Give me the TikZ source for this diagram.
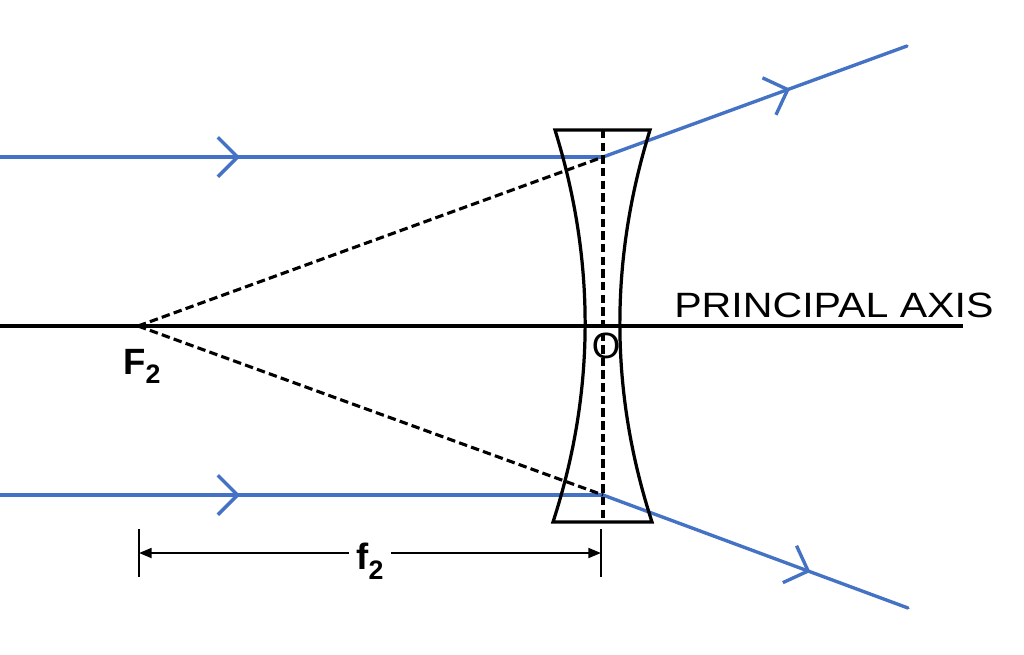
\documentclass[tikz,border=0pt]{standalone}
\usepackage{fontspec}
\setmainfont{Liberation Sans}
\newfontfamily\axisfont[FakeStretch=1.17]{Liberation Sans}
\usetikzlibrary{arrows.meta,decorations.markings}
\definecolor{raysblue}{RGB}{68,114,196}
\definecolor{inkblack}{RGB}{0,0,0}
\newcommand{\lowsub}[1]{\raisebox{-7pt}{\fontsize{19}{19}\selectfont #1}}
\tikzset{
  ray/.style={raysblue, line width=2.4pt, line cap=round},
  raymark/.style={postaction={decorate, decoration={markings,
    mark=at position #1 with {\arrow{Straight Barb[length=14pt,width=28pt]}}}}},
  guide/.style={inkblack, line width=2.2pt, dash pattern=on 6pt off 3pt},
  lensline/.style={inkblack, line width=2.3pt, line join=miter},
  axisline/.style={inkblack, line width=2.2pt},
  tickline/.style={inkblack, line width=1.6pt},
  dimline/.style={inkblack, line width=1.6pt,
    {Triangle[length=9pt,width=7pt]}-{Triangle[length=9pt,width=7pt]}}
}

\begin{document}
\begin{tikzpicture}[x=0.025cm, y=-0.025cm]
\useasboundingbox (0,0) rectangle (1024,654);
% points
\coordinate (F) at (138,326);
\coordinate (axisL) at (0,326);
\coordinate (axisR) at (963,326);
\coordinate (topIn) at (0,157);
\coordinate (topHit) at (603,157);
\coordinate (topOut) at (907,46);
\coordinate (botIn) at (0,495);
\coordinate (botHit) at (603,495);
\coordinate (botOut) at (908,608);
\coordinate (lensTop) at (603,130);
\coordinate (lensBot) at (603,522);
\coordinate (lensTL) at (555,130);
\coordinate (lensTR) at (650,130);
\coordinate (lensBL) at (553,522);
\coordinate (lensBR) at (652,522);
\coordinate (tickLa) at (139,529);
\coordinate (tickLb) at (139,577);
\coordinate (tickRa) at (601,529);
\coordinate (tickRb) at (601,577);
\coordinate (dimL) at (139,553);
\coordinate (dimR) at (601,553);

% rays
\draw[ray, raymark=0.398] (topIn) -- (topHit);
\draw[ray, raymark=0.615] (topHit) -- (topOut);
\draw[ray, raymark=0.398] (botIn) -- (botHit);
\draw[ray, raymark=0.68] (botHit) -- (botOut);

% virtual rays and lens centre
\draw[guide] (F) -- (topHit);
\draw[guide] (F) -- (botHit);
\draw[guide] (lensTop) -- (lensBot);

% lens
\draw[lensline] (lensTL) -- (lensTR) .. controls (609,262) and (610,393) .. (lensBR)
  -- (lensBL) .. controls (595,393) and (596,262) .. cycle;

% axis
\draw[axisline] (axisL) -- (axisR);

% focal length
\draw[tickline] (tickLa) -- (tickLb);
\draw[tickline] (tickRa) -- (tickRb);
\draw[dimline] (dimL) -- node[fill=white, inner xsep=5pt, inner ysep=0pt, yshift=-6pt,
  font=\fontsize{26}{26}\selectfont\bfseries] (flen) {f\lowsub{2}} (dimR);

% labels
\node[anchor=base west, inner sep=0pt, font=\fontsize{26}{26}\selectfont\bfseries]
  (Flabel) at (123,374) {F\lowsub{2}};
\node[inner sep=0pt, font=\fontsize{26}{26}\selectfont] (Olabel) at (606,346) {O};
\node[anchor=base west, inner sep=0pt, font=\axisfont\fontsize{25}{25}\selectfont]
  (axislabel) at (674,317) {PRINCIPAL AXIS};
\end{tikzpicture}
\end{document}
